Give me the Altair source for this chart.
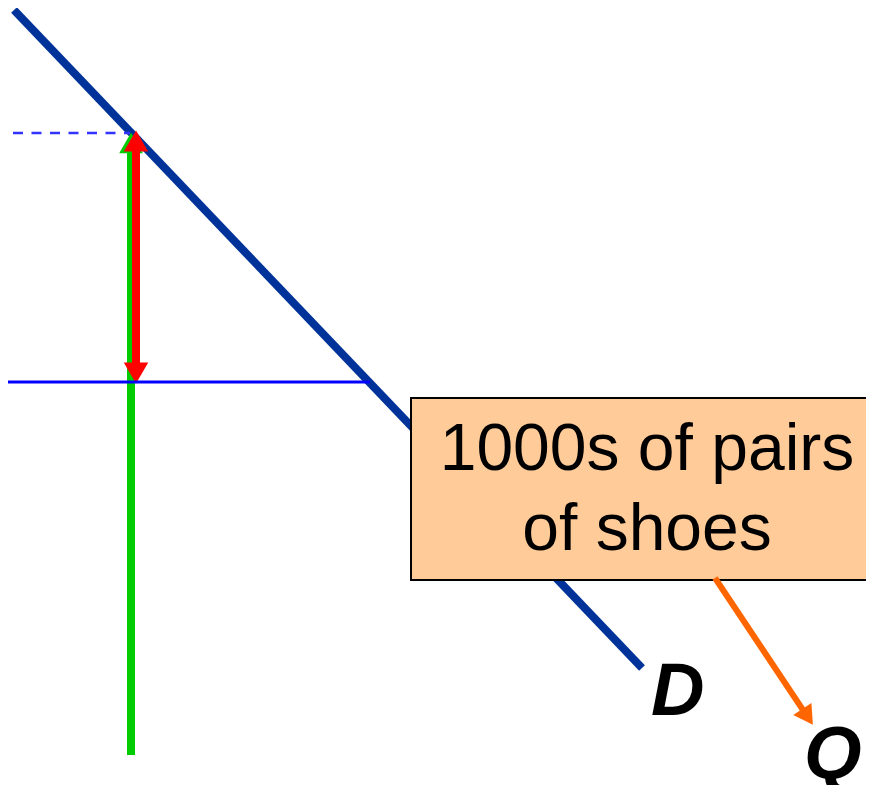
import altair as alt
import pandas as pd

# ---- diagram values (reference pixel space, y grows downward) ----
demand_x = [14, 642]
demand_y = [10, 668]

dash_x = [13, 130]
dash_y = [133]

price_x = [0, 370]
price_y = [382]

green_x = [131]
green_y = [145, 755]
green_head_x = [131]
green_head_y = [143]

red_x = [136]
red_y = [148, 366]
red_head_x = [136, 136]
red_head_y = [141, 373]
red_head_shape = ["triangle-up", "triangle-down"]

box_x = [411, 884]
box_y = [398, 580]
box_lines = ["1000s of pairs", "of shoes"]
box_text_x = [647, 647]
box_text_y = [470, 550]

orange_x = [715, 805]
orange_y = [578, 713]
orange_head_x = [807.6]
orange_head_y = [716.9]
orange_head_angle = [146.3]

labels = ["D", "Q"]
label_x = [651, 804]
label_y = [715, 778]

# ---- scales ----
xs = alt.Scale(domain=[8, 866], nice=False, zero=False)
ys = alt.Scale(domain=[8, 785], nice=False, zero=False, reverse=True)


def X(f="x"):
    return alt.X(f"{f}:Q", scale=xs, axis=None)


def Y(f="y"):
    return alt.Y(f"{f}:Q", scale=ys, axis=None)


demand = alt.Chart(pd.DataFrame({"x": [demand_x[0]], "x2": [demand_x[1]],
                                 "y": [demand_y[0]], "y2": [demand_y[1]]})).mark_rule(
    color="#003399", strokeWidth=8, strokeCap="butt").encode(
    x=X(), x2="x2:Q", y=Y(), y2="y2:Q")

dash = alt.Chart(pd.DataFrame({"x": [dash_x[0]], "x2": [dash_x[1]], "y": dash_y})).mark_rule(
    color="#3333ff", strokeWidth=2.5, strokeDash=[10, 8.5]).encode(
    x=X(), x2="x2:Q", y=Y())

price = alt.Chart(pd.DataFrame({"x": [price_x[0]], "x2": [price_x[1]], "y": price_y})).mark_rule(
    color="#0000ff", strokeWidth=3).encode(x=X(), x2="x2:Q", y=Y())

green = alt.Chart(pd.DataFrame({"x": green_x, "y": [green_y[0]], "y2": [green_y[1]]})).mark_rule(
    color="#00cc00", strokeWidth=8).encode(x=X(), y=Y(), y2="y2:Q")

green_head = alt.Chart(pd.DataFrame({"x": green_head_x, "y": green_head_y})).mark_point(
    shape="triangle-up", filled=True, size=560, color="#00cc00", opacity=1, strokeWidth=0).encode(
    x=X(), y=Y())

red = alt.Chart(pd.DataFrame({"x": red_x, "y": [red_y[0]], "y2": [red_y[1]]})).mark_rule(
    color="#ff0000", strokeWidth=8).encode(x=X(), y=Y(), y2="y2:Q")

red_heads = alt.Chart(pd.DataFrame({"x": red_head_x, "y": red_head_y, "s": red_head_shape})).mark_point(
    filled=True, size=600, color="#ff0000", opacity=1, strokeWidth=0).encode(
    x=X(), y=Y(), shape=alt.Shape("s:N", scale=None, legend=None))

box = alt.Chart(pd.DataFrame({"x": [box_x[0]], "x2": [box_x[1]],
                              "y": [box_y[0]], "y2": [box_y[1]]})).mark_rect(
    fill="#ffcc99", stroke="#000000", strokeWidth=2).encode(
    x=X(), x2="x2:Q", y=Y(), y2="y2:Q")

box_text = alt.Chart(pd.DataFrame({"x": box_text_x, "y": box_text_y, "t": box_lines})).mark_text(
    font="Liberation Sans", fontSize=66, color="#000000", align="center", baseline="alphabetic").encode(
    x=X(), y=Y(), text="t:N")

orange = alt.Chart(pd.DataFrame({"x": [orange_x[0]], "x2": [orange_x[1]],
                                 "y": [orange_y[0]], "y2": [orange_y[1]]})).mark_rule(
    color="#ff6600", strokeWidth=6).encode(x=X(), x2="x2:Q", y=Y(), y2="y2:Q")

orange_head = alt.Chart(pd.DataFrame({"x": orange_head_x, "y": orange_head_y,
                                      "a": orange_head_angle})).mark_point(
    shape="triangle-up", filled=True, size=480, color="#ff6600", opacity=1, strokeWidth=0).encode(
    x=X(), y=Y(), angle=alt.Angle("a:Q", scale=None))

label_text = alt.Chart(pd.DataFrame({"x": label_x, "y": label_y, "t": labels})).mark_text(
    font="Liberation Sans", fontSize=74, fontWeight="bold", fontStyle="italic",
    color="#000000", align="left", baseline="alphabetic").encode(
    x=X(), y=Y(), text="t:N")

chart = alt.layer(
    demand, dash, green, green_head, red, red_heads, price,
    box, box_text, orange, orange_head, label_text
).properties(
    width=858, height=777, padding=0,
    autosize=alt.AutoSizeParams(type="none"),
).configure_view(stroke=None)

chart.save("out.html", embed_options={"renderer": "svg", "actions": False})
